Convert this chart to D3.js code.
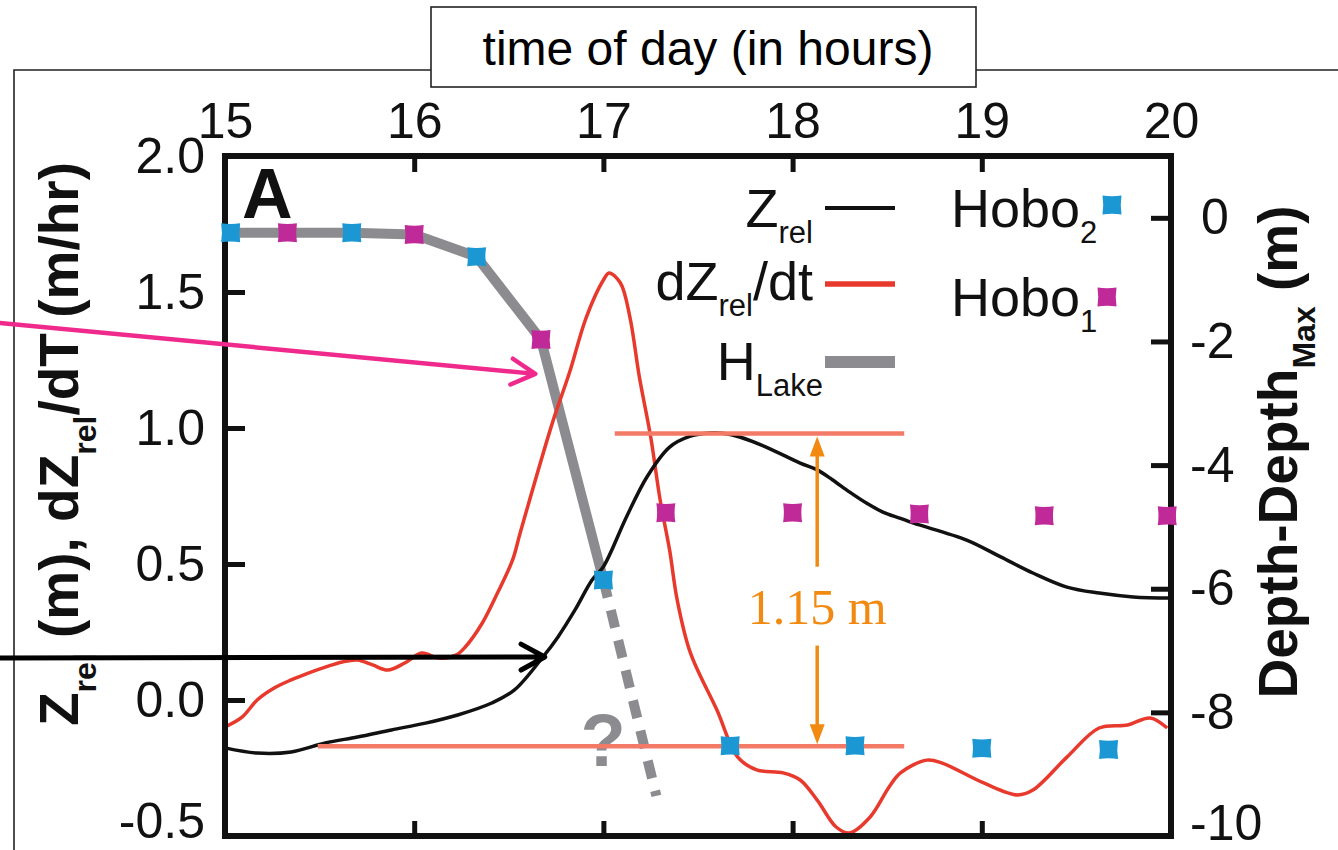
<!DOCTYPE html>
<html>
<head>
<meta charset="utf-8">
<script src="https://cdn.jsdelivr.net/npm/d3@7"></script>
<style>
  html, body { margin: 0; padding: 0; background: #fff; }
  svg { display: block; font-family: "Liberation Sans", Arial, Helvetica, sans-serif; }
</style>
</head>
<body>
<svg id="chart" width="1338" height="850"></svg>
<script>
// ---- data -------------------------------------------------------------
const hourTicks = [15, 16, 17, 18, 19, 20];
const leftTicks = [-0.5, 0.0, 0.5, 1.0, 1.5, 2.0];
const rightTicks = [0, -2, -4, -6, -8, -10];

// Z_rel (m) against time of day (h)
const zrelTime = [15.00, 15.17, 15.35, 15.53, 15.70, 15.88, 16.06, 16.23, 16.41, 16.53,
  16.68, 16.76, 16.85, 16.94, 17.00, 17.12, 17.23, 17.35, 17.46, 17.56, 17.64, 17.72,
  17.86, 18.04, 18.13, 18.21, 18.30, 18.39, 18.48, 18.57, 18.64, 18.92, 19.10, 19.27,
  19.45, 19.62, 19.80, 20.00];
const zrelValue = [-0.176, -0.195, -0.191, -0.158, -0.136, -0.110, -0.085, -0.055, -0.011, 0.037,
  0.158, 0.232, 0.331, 0.441, 0.490, 0.670, 0.820, 0.930, 0.970, 0.982, 0.980, 0.967,
  0.930, 0.871, 0.846, 0.810, 0.765, 0.724, 0.690, 0.668, 0.650, 0.588, 0.526, 0.467,
  0.415, 0.393, 0.379, 0.375];

// dZ_rel/dt (m/hr)
const rateTime = [15.00, 15.09, 15.17, 15.26, 15.35, 15.44, 15.53, 15.62, 15.70, 15.78,
  15.86, 15.95, 16.04, 16.13, 16.22, 16.27, 16.36, 16.44, 16.52, 16.56, 16.73, 16.82,
  16.91, 17.00, 17.03, 17.09, 17.14, 17.19, 17.25, 17.30, 17.35, 17.39, 17.46, 17.60,
  17.71, 17.81, 17.95, 18.04, 18.13, 18.23, 18.30, 18.41, 18.51, 18.57, 18.71, 18.79,
  19.01, 19.19, 19.27, 19.45, 19.62, 19.77, 19.89, 19.98];
const rateValue = [-0.099, -0.063, 0.000, 0.044, 0.074, 0.099, 0.121, 0.140, 0.147, 0.129,
  0.110, 0.136, 0.173, 0.154, 0.165, 0.195, 0.283, 0.393, 0.515, 0.614, 1.018, 1.202,
  1.408, 1.544, 1.570, 1.533, 1.408, 1.188, 0.967, 0.735, 0.551, 0.368, 0.173, -0.037,
  -0.210, -0.257, -0.268, -0.294, -0.368, -0.467, -0.489, -0.430, -0.320, -0.268, -0.221, -0.232,
  -0.305, -0.349, -0.331, -0.210, -0.103, -0.092, -0.066, -0.103];

// logger depths relative to maximum depth (m)
const hobo2Time = [15.03, 15.67, 16.33, 17.00, 17.67, 18.33, 19.00, 19.67];
const hobo2Depth = [-0.24, -0.24, -0.63, -5.86, -8.54, -8.54, -8.58, -8.60];
const hobo1Time = [15.33, 16.00, 16.67, 17.33, 18.00, 18.67, 19.33, 19.98];
const hobo1Depth = [-0.24, -0.27, -1.97, -4.77, -4.77, -4.79, -4.82, -4.82];

// lake level trace and its uncertain continuation
const lakeTime = [15.00, 15.33, 15.67, 16.00, 16.33, 16.67, 17.00];
const lakeDepth = [-0.24, -0.24, -0.24, -0.27, -0.63, -1.97, -5.86];
const lakeGuessTime = [17.00, 17.28];
const lakeGuessDepth = [-5.86, -9.35];

// drop of Z_rel between its high and low levels
const levelHigh = 0.98, levelLow = -0.17;
const dropLabel = "1.15 m";

// ---- layout -----------------------------------------------------------
const svg = d3.select("#chart");
const x = d3.scaleLinear().domain([15, 20]).range([225, 1171]);
const yL = d3.scaleLinear().domain([-0.5, 2]).range([836, 156]);
const yR = d3.scaleLinear().domain([-10, 1]).range([836, 156]);

const C = {
  red: "#e8392d", black: "#111", gray: "#8c8c90",
  blue: "#1b98d3", magenta: "#c02a98", salmon: "#f47a68",
  orange: "#f28a12", pink: "#f02a8c"
};

svg.append("rect").attr("width", 1338).attr("height", 850).attr("fill", "#fff");

// outer frame with title tab
svg.append("path")
  .attr("d", "M14,850 V70 H431 M976,70 H1338")
  .attr("fill", "none").attr("stroke", "#222").attr("stroke-width", 1.6);
svg.append("rect")
  .attr("x", 431).attr("y", 7).attr("width", 545).attr("height", 80)
  .attr("fill", "#fff").attr("stroke", "#222").attr("stroke-width", 1.6);
svg.append("text")
  .attr("x", 708).attr("y", 65).attr("text-anchor", "middle")
  .attr("font-size", 48).attr("fill", "#000")
  .text("time of day (in hours)");

// ---- curves -----------------------------------------------------------
const g = svg.append("g");

const lakeLine = d3.line().x(i => x(lakeTime[i])).y(i => yR(lakeDepth[i]));
g.append("path").attr("d", lakeLine(d3.range(lakeTime.length)))
  .attr("fill", "none").attr("stroke", C.gray).attr("stroke-width", 10)
  .attr("stroke-linejoin", "round");

const guessLine = d3.line().x(i => x(lakeGuessTime[i])).y(i => yR(lakeGuessDepth[i]));
g.append("path").attr("d", guessLine(d3.range(lakeGuessTime.length)))
  .attr("fill", "none").attr("stroke", C.gray).attr("stroke-width", 10)
  .attr("stroke-dasharray", "18 13");

g.append("text")
  .attr("x", 603).attr("y", 766).attr("text-anchor", "middle")
  .attr("font-size", 74).attr("font-weight", "bold").attr("fill", C.gray)
  .text("?");

const rateLine = d3.line().curve(d3.curveCatmullRom.alpha(0.5))
  .x(i => x(rateTime[i])).y(i => yL(rateValue[i]));
g.append("path").attr("d", rateLine(d3.range(rateTime.length)))
  .attr("fill", "none").attr("stroke", C.red).attr("stroke-width", 3.5);

const zLine = d3.line().curve(d3.curveCatmullRom.alpha(0.5))
  .x(i => x(zrelTime[i])).y(i => yL(zrelValue[i]));
g.append("path").attr("d", zLine(d3.range(zrelTime.length)))
  .attr("fill", "none").attr("stroke", C.black).attr("stroke-width", 3.5);

// high / low level guides
g.append("line")
  .attr("x1", x(17.06)).attr("x2", x(18.59))
  .attr("y1", yL(levelHigh)).attr("y2", yL(levelHigh))
  .attr("stroke", C.salmon).attr("stroke-width", 4.5);
g.append("line")
  .attr("x1", x(15.49)).attr("x2", x(18.59))
  .attr("y1", yL(levelLow)).attr("y2", yL(levelLow))
  .attr("stroke", C.salmon).attr("stroke-width", 4.5);

// ---- axes -------------------------------------------------------------
function styleAxis(sel) {
  sel.select(".domain").remove();
  sel.selectAll(".tick line").attr("stroke", "#111").attr("stroke-width", 5);
  sel.selectAll(".tick text").attr("fill", "#111")
    .attr("font-size", 50).attr("font-family", "'Liberation Sans', Arial, sans-serif");
}

svg.append("g").attr("transform", "translate(0,156)")
  .call(d3.axisTop(x).tickValues(hourTicks).tickSizeInner(-16).tickSizeOuter(0).tickPadding(18)
    .tickFormat(d => String(d)))
  .call(styleAxis);

svg.append("g").attr("transform", "translate(0,836)")
  .call(d3.axisBottom(x).tickValues(hourTicks).tickSizeInner(-15).tickSizeOuter(0).tickFormat(""))
  .call(styleAxis);

const leftAxis = svg.append("g").attr("transform", "translate(225,0)")
  .call(d3.axisLeft(yL).tickValues(leftTicks).tickSizeInner(-20).tickSizeOuter(0).tickPadding(20)
    .tickFormat(d => d.toFixed(1)))
  .call(styleAxis);
// lowest label sits a little above its tick to stay inside the figure
leftAxis.selectAll(".tick text").filter(d => d === -0.5).attr("y", -15);

const rightAxis = svg.append("g").attr("transform", "translate(1171,0)")
  .call(d3.axisRight(yR).tickValues(rightTicks).tickSizeInner(-20).tickSizeOuter(0).tickPadding(19)
    .tickFormat(d => String(d)))
  .call(styleAxis);
rightAxis.selectAll(".tick text").filter(d => d === -10).attr("y", -13);
rightAxis.selectAll(".tick text").filter(d => d === 0).attr("x", 30);

svg.append("rect")
  .attr("x", x(15)).attr("y", yL(2))
  .attr("width", x(20) - x(15)).attr("height", yL(-0.5) - yL(2))
  .attr("fill", "none").attr("stroke", "#111").attr("stroke-width", 6);

// ---- logger markers ---------------------------------------------------
function markerPath(s) {
  const k = s * 0.84;
  return `M${-s},${-s} Q0,${-k} ${s},${-s} Q${k},0 ${s},${s} Q0,${k} ${-s},${s} Q${-k},0 ${-s},${-s} Z`;
}
const mk = markerPath(9.5);
svg.append("g").selectAll("path")
  .data(d3.range(hobo2Time.length)).join("path")
  .attr("d", mk)
  .attr("transform", i => `translate(${x(hobo2Time[i])},${yR(hobo2Depth[i])})`)
  .attr("fill", C.blue);
svg.append("g").selectAll("path")
  .data(d3.range(hobo1Time.length)).join("path")
  .attr("d", mk)
  .attr("transform", i => `translate(${x(hobo1Time[i])},${yR(hobo1Depth[i])})`)
  .attr("fill", C.magenta);

// ---- panel letter and axis titles --------------------------------------
svg.append("text").attr("x", 242).attr("y", 218)
  .attr("font-size", 70).attr("font-weight", "bold").attr("fill", "#111").text("A");

function subText(sel, parts, subSize, shift) {
  let down = false;
  parts.forEach(p => {
    const t = sel.append("tspan").text(p.t);
    if (p.sub && !down) { t.attr("dy", shift).attr("font-size", subSize); down = true; }
    else if (p.sub) { t.attr("font-size", subSize); }
    else if (down) { t.attr("dy", -shift); down = false; }
  });
}

const leftTitle = svg.append("text")
  .attr("transform", "translate(78,444) rotate(-90)")
  .attr("text-anchor", "middle").attr("font-size", 55).attr("font-weight", "bold").attr("fill", "#111");
subText(leftTitle, [{t: "Z"}, {t: "rel", sub: true}, {t: " (m), dZ"}, {t: "rel", sub: true},
  {t: "/dT (m/hr)"}], 32, 18);

const rightTitle = svg.append("text")
  .attr("transform", "translate(1297,452) rotate(-90)")
  .attr("text-anchor", "middle").attr("font-size", 55).attr("font-weight", "bold").attr("fill", "#111");
subText(rightTitle, [{t: "Depth-Depth"}, {t: "Max", sub: true}, {t: " (m)"}], 32, 18);

// ---- legend -----------------------------------------------------------
const legend = svg.append("g").attr("fill", "#111").attr("font-size", 54);
const legRows = [
  {parts: [{t: "Z"}, {t: "rel", sub: true}], end: 813, base: 227, y: 208, color: C.black, w: 4},
  {parts: [{t: "dZ"}, {t: "rel", sub: true}, {t: "/dt"}], end: 813, base: 300, y: 284, color: C.red, w: 5.5},
  {parts: [{t: "H"}, {t: "Lake", sub: true}], end: 823, base: 380, y: 362, color: C.gray, w: 12}
];
legRows.forEach(r => {
  const t = legend.append("text").attr("x", r.end).attr("y", r.base).attr("text-anchor", "end");
  subText(t, r.parts, 31, 16);
  legend.append("line").attr("x1", 825).attr("x2", 895).attr("y1", r.y).attr("y2", r.y)
    .attr("stroke", r.color).attr("stroke-width", r.w);
});
const hoboRows = [
  {label: "2", base: 227, mx: 1112, my: 205, color: C.blue},
  {label: "1", base: 316, mx: 1107, my: 297, color: C.magenta}
];
hoboRows.forEach(r => {
  const t = legend.append("text").attr("x", 951).attr("y", r.base);
  subText(t, [{t: "Hobo"}, {t: r.label, sub: true}], 31, 16);
  legend.append("path").attr("d", mk).attr("transform", `translate(${r.mx},${r.my})`).attr("fill", r.color);
});

// ---- annotations ------------------------------------------------------
const ann = svg.append("g");
const xm = x(18.13);
function arrowHead(tx, ty, dir, len, half, color) {
  // filled triangle pointing in direction dir (+1 down, -1 up)
  ann.append("path")
    .attr("d", `M${tx},${ty} L${tx - half},${ty - dir * len} L${tx + half},${ty - dir * len} Z`)
    .attr("fill", color);
}
ann.append("line").attr("x1", xm).attr("x2", xm)
  .attr("y1", yL(0.49)).attr("y2", yL(levelHigh) + 16)
  .attr("stroke", C.orange).attr("stroke-width", 3.5);
arrowHead(xm, yL(levelHigh) + 3, -1, 20, 7.5, C.orange);
ann.append("line").attr("x1", xm).attr("x2", xm)
  .attr("y1", yL(0.20)).attr("y2", yL(levelLow) - 16)
  .attr("stroke", C.orange).attr("stroke-width", 3.5);
arrowHead(xm, yL(levelLow) - 2, 1, 20, 7.5, C.orange);
ann.append("text").attr("x", xm).attr("y", 624).attr("text-anchor", "middle")
  .attr("font-family", "'Liberation Serif', 'Times New Roman', serif")
  .attr("font-size", 50).attr("fill", C.orange).text(dropLabel);

function openArrow(t0, v0, t1, v1, color, width) {
  const x0 = x(t0), y0 = yL(v0), x1 = x(t1), y1 = yL(v1);
  const a = Math.atan2(y1 - y0, x1 - x0);
  const back = 27, spread = 0.5;
  const p1 = [x1 - back * Math.cos(a - spread), y1 - back * Math.sin(a - spread)];
  const p2 = [x1 - back * Math.cos(a + spread), y1 - back * Math.sin(a + spread)];
  ann.append("path")
    .attr("d", `M${x0},${y0} L${x1},${y1} M${p1[0]},${p1[1]} L${x1},${y1} L${p2[0]},${p2[1]}`)
    .attr("fill", "none").attr("stroke", color).attr("stroke-width", width)
    .attr("stroke-linecap", "round").attr("stroke-linejoin", "round");
}
openArrow(13.81, 1.386, 16.64, 1.199, C.pink, 4.5);
openArrow(13.81, 0.154, 16.69, 0.158, "#000", 5);
</script>
</body>
</html>
